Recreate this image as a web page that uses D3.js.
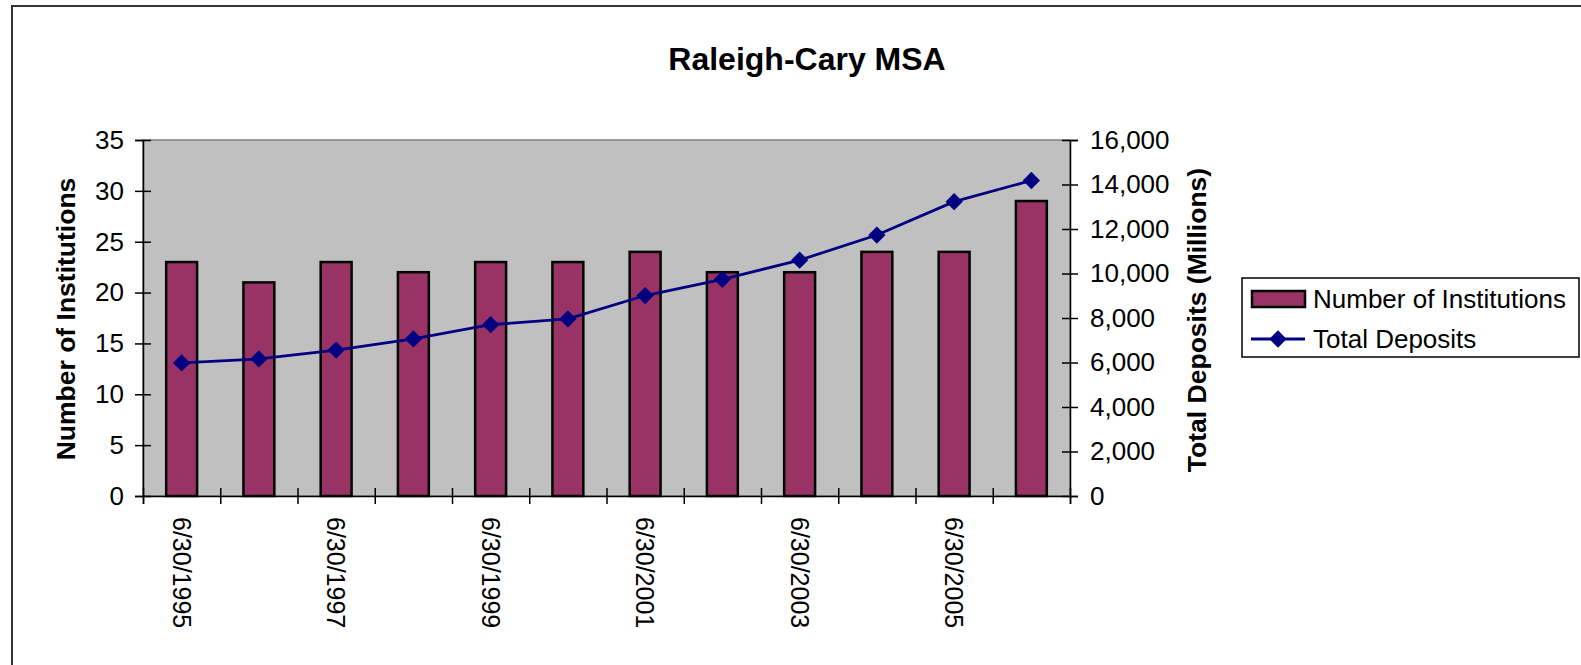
<!DOCTYPE html>
<html>
<head>
<meta charset="utf-8">
<script src="https://cdnjs.cloudflare.com/ajax/libs/d3/7.8.5/d3.min.js"></script>
<style>
  body { margin: 0; background: #fff; }
  svg { display: block; font-family: "Liberation Sans", Arial, sans-serif; }
</style>
</head>
<body>
<div id="chart"></div>
<script>
var dates = ["6/30/1995", "6/30/1996", "6/30/1997", "6/30/1998", "6/30/1999", "6/30/2000",
             "6/30/2001", "6/30/2002", "6/30/2003", "6/30/2004", "6/30/2005", "6/30/2006"];
var institutions = [23, 21, 23, 22, 23, 23, 24, 22, 22, 24, 24, 29];
var deposits = [5980, 6160, 6560, 7060, 7700, 7960, 9010, 9740, 10600, 11730, 13230, 14180];
var leftTicks = [0, 5, 10, 15, 20, 25, 30, 35];
var rightTicks = [0, 2000, 4000, 6000, 8000, 10000, 12000, 14000, 16000];

var width = 1581, height = 665;
var plot = {left: 143, right: 1070, top: 140, bottom: 496};

var svg = d3.select("#chart").append("svg")
            .attr("width", width)
            .attr("height", height);

// outer chart border
svg.append("rect")
   .attr("x", 12).attr("y", 6)
   .attr("width", 1700).attr("height", 800)
   .attr("fill", "#fff")
   .attr("stroke", "#333").attr("stroke-width", 2);

var x = d3.scaleBand()
          .domain(dates)
          .range([plot.left, plot.right]);

var xb = d3.scaleLinear()
           .domain([0, dates.length])
           .range([plot.left, plot.right]);

var y = d3.scaleLinear()
          .domain([0, 35])
          .range([plot.bottom, plot.top]);

var y2 = d3.scaleLinear()
           .domain([0, 16000])
           .range([plot.bottom, plot.top]);

// plot area
svg.append("rect")
   .attr("x", plot.left).attr("y", plot.top)
   .attr("width", plot.right - plot.left)
   .attr("height", plot.bottom - plot.top)
   .attr("fill", "#c0c0c0")
   .attr("stroke", "#808080").attr("stroke-width", 1.5);

// bars
var bw = x.bandwidth() * 0.4;
svg.selectAll(".bar")
   .data(institutions)
   .enter().append("rect")
   .attr("class", "bar")
   .attr("x", function(d, i){ return x(dates[i]) + (x.bandwidth() - bw) / 2; })
   .attr("y", function(d){ return y(d); })
   .attr("width", bw)
   .attr("height", function(d){ return y(0) - y(d); })
   .attr("fill", "#993366")
   .attr("stroke", "#000").attr("stroke-width", 2.5);

// deposits line
var valueLine = d3.line()
                  .x(function(d, i){ return x(dates[i]) + x.bandwidth() / 2; })
                  .y(function(d){ return y2(d); });

svg.append("path")
   .attr("d", valueLine(deposits))
   .attr("fill", "none")
   .attr("stroke", "#000080").attr("stroke-width", 2.8);

var diamond = d3.symbol().type(d3.symbolDiamond2).size(190);
svg.selectAll(".pt")
   .data(deposits)
   .enter().append("path")
   .attr("class", "pt")
   .attr("transform", function(d, i){
     return "translate(" + (x(dates[i]) + x.bandwidth() / 2) + "," + y2(d) + ")"; })
   .attr("d", diamond)
   .attr("fill", "#000080");

// left axis
var gl = svg.append("g")
   .attr("transform", "translate(" + plot.left + ",0)")
   .call(d3.axisLeft(y).tickValues(leftTicks).tickSize(8).tickPadding(11));
gl.selectAll(".tick line").attr("x1", 8);

// right axis
var fmt = d3.format(",");
var gr = svg.append("g")
   .attr("transform", "translate(" + plot.right + ",0)")
   .call(d3.axisRight(y2).tickValues(rightTicks).tickFormat(fmt).tickSize(8).tickPadding(12));
gr.selectAll(".tick line").attr("x1", -8);

// bottom axis: ticks at category boundaries
var gb = svg.append("g")
   .attr("transform", "translate(0," + plot.bottom + ")")
   .call(d3.axisBottom(xb).tickValues(d3.range(dates.length + 1)).tickFormat("").tickSize(8));
gb.selectAll(".tick line").attr("y1", -8);

// bottom labels, every other date
var gx = svg.append("g")
   .attr("transform", "translate(0," + plot.bottom + ")")
   .call(d3.axisBottom(x).tickSize(0)
           .tickFormat(function(d, i){ return i % 2 === 0 ? d : ""; }));
gx.select(".domain").remove();

svg.selectAll(".tick text")
   .attr("fill", "#000")
   .style("font-size", "26px")
   .style("font-family", "'Liberation Sans', Arial, sans-serif");
gx.selectAll("text")
  .attr("transform", "rotate(90)")
  .attr("x", 21).attr("y", 0)
  .attr("dy", "0.35em")
  .style("font-size", "25px")
  .style("text-anchor", "start");
svg.selectAll(".domain").attr("stroke", "#000").attr("stroke-width", 1.5);
svg.selectAll(".tick line").attr("stroke", "#000").attr("stroke-width", 1.5);

// titles
svg.append("text")
   .attr("x", 807).attr("y", 70)
   .attr("text-anchor", "middle")
   .style("font-size", "32px").style("font-weight", "bold")
   .text("Raleigh-Cary MSA");

svg.append("text")
   .attr("transform", "translate(75,319) rotate(-90)")
   .attr("text-anchor", "middle")
   .style("font-size", "26.5px").style("font-weight", "bold")
   .text("Number of Institutions");

svg.append("text")
   .attr("transform", "translate(1206,320) rotate(-90)")
   .attr("text-anchor", "middle")
   .style("font-size", "26.5px").style("font-weight", "bold")
   .text("Total Deposits (Millions)");

// legend
var lg = svg.append("g");
lg.append("rect")
  .attr("x", 1242).attr("y", 278)
  .attr("width", 337).attr("height", 79)
  .attr("fill", "#fff").attr("stroke", "#000").attr("stroke-width", 1.5);
lg.append("rect")
  .attr("x", 1252).attr("y", 291)
  .attr("width", 53).attr("height", 16)
  .attr("fill", "#993366").attr("stroke", "#000").attr("stroke-width", 2.5);
lg.append("text")
  .attr("x", 1313).attr("y", 308)
  .style("font-size", "26px")
  .text("Number of Institutions");
lg.append("line")
  .attr("x1", 1251).attr("x2", 1305)
  .attr("y1", 339).attr("y2", 339)
  .attr("stroke", "#000080").attr("stroke-width", 2.8);
lg.append("path")
  .attr("transform", "translate(1278,339)")
  .attr("d", diamond)
  .attr("fill", "#000080");
lg.append("text")
  .attr("x", 1313).attr("y", 348)
  .style("font-size", "26px")
  .text("Total Deposits");
</script>
</body>
</html>
